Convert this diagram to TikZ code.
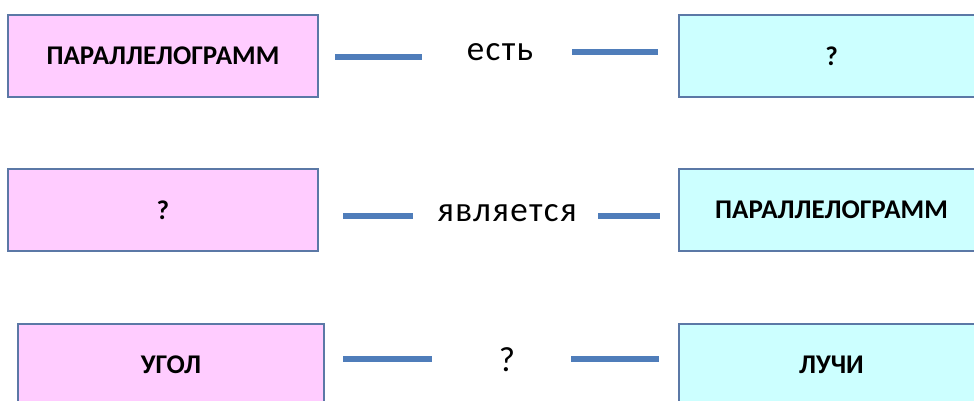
\documentclass[tikz,border=0pt]{standalone}
\usepackage{fontspec}
\setmainfont{Carlito}
\begin{document}
\begin{tikzpicture}[x=1pt,y=1pt,
  pinkbox/.style={draw=boxline,line width=1.6pt,fill=pinkfill,minimum height=82pt,inner sep=0pt,font=\bfseries\fontsize{27}{27}\selectfont},
  cyanbox/.style={draw=boxline,line width=1.6pt,fill=cyanfill,minimum height=82pt,minimum width=305pt,inner sep=0pt,font=\bfseries\fontsize{27}{27}\selectfont},
  link/.style={draw=linkblue,line width=6.5pt},
  verb/.style={inner sep=0pt,anchor=base,font=\addfontfeatures{LetterSpace=4}\fontsize{35}{35}\selectfont}]
\definecolor{pinkfill}{HTML}{FFCCFF}
\definecolor{cyanfill}{HTML}{CCFFFF}
\definecolor{boxline}{HTML}{5B78A6}
\definecolor{linkblue}{HTML}{4F7DBA}
\useasboundingbox (0,0) rectangle (974,-401);
\clip (0,0) rectangle (974,-401);
% row 1
\node[pinkbox,minimum width=310pt] (p1) at (163,-56) {ПАРАЛЛЕЛОГРАММ};
\node[cyanbox] (c1) at (831.5,-56) {?};
\node[verb] (v1) at (500,-61) {есть};
\coordinate (a1) at (335,-57); \coordinate (b1) at (422,-57);
\coordinate (d1) at (572,-52); \coordinate (e1) at (658,-52);
\draw[link] (a1) -- (b1);
\draw[link] (d1) -- (e1);
% row 2
\node[pinkbox,minimum width=310pt] (p2) at (163,-210) {?};
\node[cyanbox] (c2) at (831.5,-210) {ПАРАЛЛЕЛОГРАММ};
\node[verb] (v2) at (507,-221) {является};
\coordinate (a2) at (343,-216); \coordinate (b2) at (413,-216);
\coordinate (d2) at (598,-216); \coordinate (e2) at (660,-216);
\draw[link] (a2) -- (b2);
\draw[link] (d2) -- (e2);
% row 3
\node[pinkbox,minimum width=306pt] (p3) at (171,-365) {УГОЛ};
\node[cyanbox] (c3) at (831.5,-365) {ЛУЧИ};
\node[verb] (v3) at (507,-371) {?};
\coordinate (a3) at (343,-359); \coordinate (b3) at (432,-359);
\coordinate (d3) at (571,-359); \coordinate (e3) at (659,-359);
\draw[link] (a3) -- (b3);
\draw[link] (d3) -- (e3);
\end{tikzpicture}
\end{document}
